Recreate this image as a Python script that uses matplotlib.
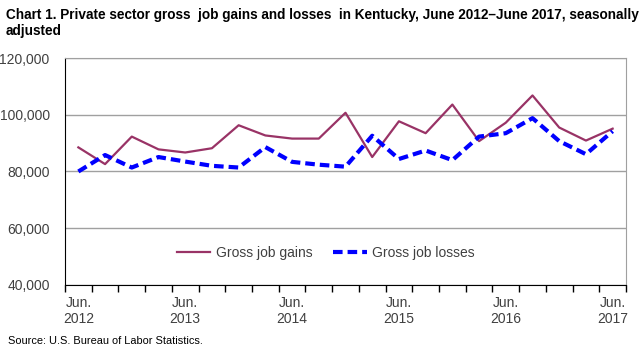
import matplotlib.pyplot as plt
from matplotlib.ticker import FuncFormatter, FixedLocator

plt.rcParams['font.family'] = ['Liberation Sans', 'DejaVu Sans']

quarters = ["Jun.\n2012", "", "", "", "Jun.\n2013", "", "", "", "Jun.\n2014", "", "", "",
            "Jun.\n2015", "", "", "", "Jun.\n2016", "", "", "", "Jun.\n2017"]
gains = [88500, 82600, 92300, 87800, 86700, 88200, 96300, 92700, 91600, 91600, 100700,
         85100, 97700, 93500, 103600, 90700, 97200, 106800, 95500, 90900, 95100]
losses = [80000, 85800, 81400, 85100, 83500, 82000, 81400, 88600, 83400, 82400, 81700,
          92600, 84400, 87400, 84000, 92300, 93500, 98800, 90700, 86100, 94200]

fig = plt.figure(figsize=(6.42, 3.5), dpi=100)
ax = fig.add_axes([65 / 642, 1 - 285 / 350, 561 / 642, 227 / 350])

x = list(range(len(gains)))
ax.plot(x, gains, color='#993366', linewidth=1.6, label='Gross job gains')
ax.plot(x, losses, color='#0000ff', linewidth=3, linestyle=(0, (2.3, 1.2)), label='Gross job losses')

ax.set_xlim(-0.5, len(gains) - 0.5)
ax.set_ylim(40000, 120000)
ax.set_yticks([40000, 60000, 80000, 100000, 120000])
ax.yaxis.set_major_formatter(FuncFormatter(lambda v, p: f"{int(v):,}"))
ax.tick_params(axis='y', length=0, pad=11, labelsize=10, labelcolor='#404040')
ax.grid(axis='y', color='#a0a0a0', linewidth=1)
ax.set_axisbelow(True)

ax.xaxis.set_major_locator(FixedLocator(x))
ax.set_xticklabels(quarters)
ax.tick_params(axis='x', which='major', length=0, pad=8, labelsize=10, labelcolor='#404040')
ax.xaxis.set_minor_locator(FixedLocator([i - 0.5 for i in range(len(gains) + 1)]))
ax.tick_params(axis='x', which='minor', length=5, width=1, color='black', direction='out')

ax.spines['left'].set_color('black')
ax.spines['bottom'].set_color('black')
ax.spines['top'].set_color('#a0a0a0')
ax.spines['right'].set_color('#a0a0a0')

ax.legend(loc='center', bbox_to_anchor=(0.465, 0.14), ncol=2, frameon=False,
          fontsize=10, handlelength=2.4, handletextpad=0.4, columnspacing=1.5,
          labelcolor='#404040')

fig.text(6 / 642, 1 - 8 / 350,
         "Chart 1. Private sector gross  job gains and losses  in Kentucky, June 2012\u2013June 2017, seasonally\nadjusted",
         fontsize=9.8, fontweight='bold', va='top', ha='left', linespacing=1.15)
fig.text(8 / 642, 1 - 341 / 350, "Source: U.S. Bureau of Labor Statistics.", fontsize=7.9, va='center', ha='left')

fig.savefig('out.png', dpi=100)
